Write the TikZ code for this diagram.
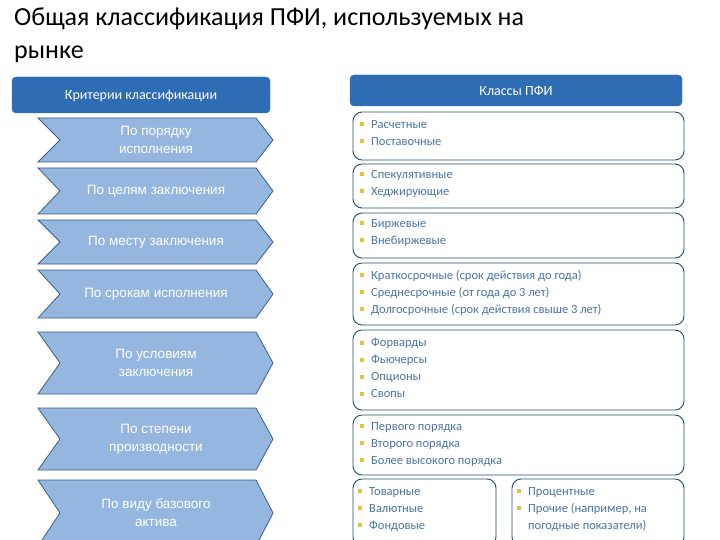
\documentclass[tikz,border=0pt]{standalone}
\usepackage{fontspec}
\setmainfont{Carlito}
\newfontfamily\arialf{Liberation Sans}
\definecolor{hdr}{HTML}{2E6DB4}
\definecolor{chev}{HTML}{95B7DF}
\definecolor{chevd}{HTML}{3A5F8C}
\definecolor{boxd}{HTML}{1F4E79}
\definecolor{txt}{HTML}{4A74A8}
\definecolor{bul}{HTML}{E8C040}
\begin{document}
\begin{tikzpicture}[x=1pt,y=-1pt,
 hdrbox/.style={fill=hdr,draw=hdr,rounded corners=4pt},
 hdrtext/.style={text=white,font=\fontsize{14}{16}\selectfont},
 chevbox/.style={fill=chev,draw=chevd,line width=0.8pt},
 chevtext/.style={text=white,font=\arialf\fontsize{13.5}{18}\selectfont,align=center},
 classbox/.style={draw=boxd,line width=0.9pt,rounded corners=9pt,fill=white},
 classtext/.style={text=txt,font=\fontsize{12.5}{17}\selectfont,align=left,anchor=north west,inner sep=0pt}]
\useasboundingbox (0,0) rectangle (720,540);
\node[anchor=north west,align=left,font=\fontsize{26}{33}\selectfont,inner sep=0pt] (title) at (14,8) {Общая классификация ПФИ, используемых на\\рынке};
\draw[hdrbox] (12,77) rectangle (270,113);
\node[hdrtext] (hl) at (141,96) {Критерии классификации};
\draw[hdrbox] (350,75) rectangle (682,106);
\node[hdrtext] (hr) at (516,91) {Классы ПФИ};
\newcommand{\chevr}[4]{%
 \draw[chevbox] (38,#1) -- (256,#1) -- (273,{(#1+#2)/2}) -- (256,#2) -- (38,#2) -- (60,{(#1+#2)/2}) -- cycle;
 \node[chevtext] (#3) at (156,{(#1+#2)/2}) {#4};}
\chevr{118}{162}{c1}{По порядку\\исполнения}
\chevr{168}{214}{c2}{По целям заключения}
\chevr{220}{264}{c3}{По месту заключения}
\chevr{270}{318}{c4}{По срокам исполнения}
\chevr{332}{394}{c5}{По условиям\\заключения}
\chevr{408}{470}{c6}{По степени\\производности}
\chevr{480}{546}{c7}{По виду базового\\актива}
\newcommand{\bl}{\textcolor{bul}{\rule[2pt]{4pt}{4pt}}\hspace{7pt}}
\newcommand{\blph}{\hspace{11pt}}
\draw[classbox] (353,112) rectangle (684,160);
\node[classtext] (k1) at (360,120) {\bl Расчетные\\\bl Поставочные};
\draw[classbox] (353,164) rectangle (684,208);
\node[classtext] (k2) at (360,170) {\bl Спекулятивные\\\bl Хеджирующие};
\draw[classbox] (353,213) rectangle (684,258);
\node[classtext] (k3) at (360,219) {\bl Биржевые\\\bl Внебиржевые};
\draw[classbox] (353,263) rectangle (684,325);
\node[classtext] (k4) at (360,270) {\bl Краткосрочные (срок действия до года)\\\bl Среднесрочные (от года до 3 лет)\\\bl Долгосрочные (срок действия свыше 3 лет)};
\draw[classbox] (353,330) rectangle (684,410);
\node[classtext] (k5) at (360,338) {\bl Форварды\\\bl Фьючерсы\\\bl Опционы\\\bl Свопы};
\draw[classbox] (353,415) rectangle (684,475);
\node[classtext] (k6) at (360,422) {\bl Первого порядка\\\bl Второго порядка\\\bl Более высокого порядка};
\draw[classbox] (353,479) rectangle (496,546);
\node[classtext] (k7) at (358,487) {\bl Товарные\\\bl Валютные\\\bl Фондовые};
\draw[classbox] (512,479) rectangle (684,546);
\node[classtext] (k8) at (517,487) {\bl Процентные\\\bl Прочие (например, на\\\blph погодные показатели)};
\end{tikzpicture}
\end{document}
